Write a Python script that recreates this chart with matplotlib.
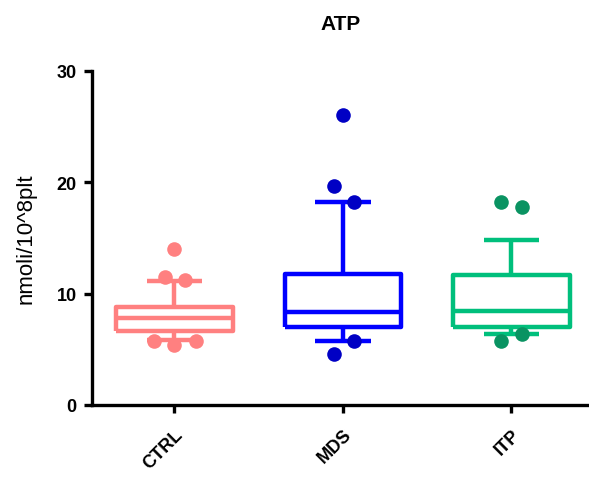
import matplotlib
matplotlib.use("Agg")
import matplotlib.pyplot as plt

plt.rcParams["font.family"] = ["Liberation Sans", "DejaVu Sans"]

# gruppi e statistiche dei box (whisker al 10-90 percentile)
groups = ["CTRL", "MDS", "ITP"]
whislo = [5.8, 5.75, 6.4]
q1 = [6.65, 7.0, 7.0]
med = [7.8, 8.3, 8.45]
q3 = [8.8, 11.8, 11.7]
whishi = [11.1, 18.2, 14.8]

# valori oltre i whisker
ctrl_pts = [14.0, 11.5, 11.2, 5.75, 5.4, 5.75]
mds_pts = [26.05, 19.7, 18.2, 5.7, 4.6]
itp_pts = [18.2, 17.8, 6.4, 5.75]
points = [ctrl_pts, mds_pts, itp_pts]

# spostamento orizzontale dei punti (per non sovrapporli)
ctrl_dx = [0.0, -0.055, 0.065, -0.12, 0.0, 0.125]
mds_dx = [0.0, -0.055, 0.065, 0.065, -0.055]
itp_dx = [-0.06, 0.06, 0.06, -0.06]
offsets = [ctrl_dx, mds_dx, itp_dx]

box_colors = ["#FF8080", "#0000FF", "#00BF7C"]
pt_colors = ["#FF8080", "#0000C4", "#0A9362"]

fig = plt.figure(figsize=(5.89, 4.85), dpi=100)
ax = fig.add_axes([0.156, 0.163, 0.844, 0.689])

for i, g in enumerate(groups):
    stats = [{"whislo": whislo[i], "q1": q1[i], "med": med[i],
              "q3": q3[i], "whishi": whishi[i], "fliers": [], "label": g}]
    c = box_colors[i]
    lp = dict(color=c, linewidth=3.2, solid_capstyle="butt")
    ax.bxp(stats, positions=[i], widths=0.69, capwidths=0.33,
           showfliers=False, boxprops=lp, whiskerprops=lp,
           capprops=lp, medianprops=lp, manage_ticks=False)
    xs = [i + d for d in offsets[i]]
    ax.plot(xs, points[i], "o", color=pt_colors[i], markersize=10.5,
            markeredgewidth=0, zorder=3)

ax.set_xlim(-0.49, 2.46)
ax.set_ylim(0, 30)
ax.set_yticks([0, 10, 20, 30])
ax.set_xticks(range(len(groups)))
ax.set_xticklabels(groups, rotation=45, ha="right", rotation_mode="anchor",
                   fontweight="bold", fontsize=13)
for lab in ax.get_yticklabels():
    lab.set_fontweight("bold")
    lab.set_fontsize(13)

for s in ["top", "right"]:
    ax.spines[s].set_visible(False)
for s in ["left", "bottom"]:
    ax.spines[s].set_linewidth(2.4)
ax.tick_params(axis="both", width=2.4, length=6, pad=5)
ax.tick_params(axis="x", pad=9)

ax.set_ylabel("nmoli/10^8plt", fontsize=16, labelpad=14)
ax.set_title("ATP", fontweight="bold", fontsize=15, pad=30)

fig.savefig("out.png", dpi=100)
